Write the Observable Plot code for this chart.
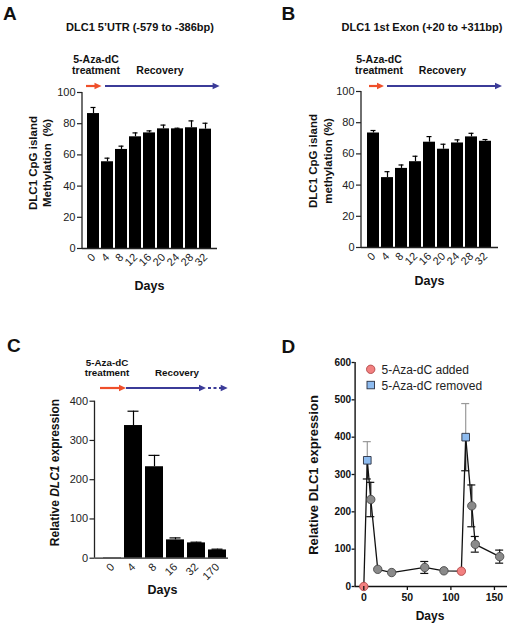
<!DOCTYPE html>
<html><head><meta charset="utf-8">
<script src="https://cdn.jsdelivr.net/npm/d3@7"></script>
<script src="https://cdn.jsdelivr.net/npm/@observablehq/plot@0.6"></script>
<style>
body{margin:0;background:#fff;}
#fig{position:relative;width:510px;height:626px;overflow:hidden;background:#fff;}
.panel{position:absolute;}
</style></head><body><div id="fig"></div>
<script>
// ---------- data ----------
const daysAB = ["0","4","8","12","16","20","24","28","32"];
const methA  = [86.5, 55.6, 63.5, 71.6, 74.1, 76.7, 76.7, 77.4, 76.5];
const errA   = [3.9, 2.3, 2.1, 2.5, 1.3, 2.4, 0.4, 4.4, 3.8];
const methB  = [73.4, 44.8, 50.7, 55.0, 67.5, 63.0, 67.0, 70.9, 68.1];
const errB   = [1.6, 3.8, 2.2, 3.5, 3.6, 3.2, 2.0, 2.3, 1.1];
const ticksAB = [0, 20, 40, 60, 80, 100];

const daysC = ["0","4","8","16","32","170"];
const exprC = [1, 338, 233, 46.7, 39, 21];
const errC  = [0, 36.5, 29, 5, 1.8, 2];
const ticksC = [0, 100, 200, 300, 400];

const daysD  = [0, 4, 8, 16, 32, 70, 92, 112, 117, 124, 128, 156];
const exprD  = [0, 338, 233, 46, 37.4, 51, 42, 41, 400, 216, 113, 80];
const errD   = [0, 50, 46, 0, 0, 16, 0, 0, 90, 56, 21, 17.5];
const typeD  = ["added","removed","recovery","recovery","recovery","recovery","recovery","added","removed","recovery","recovery","recovery"];
const ticksDx = [0, 50, 100, 150];
const ticksDy = [0, 100, 200, 300, 400, 500, 600];
const legendD = ["5-Aza-dC added", "5-Aza-dC removed"];

// ---------- style ----------
const FONT = '"Liberation Sans", Arial, Helvetica, sans-serif';
const RED = "#ef4f2a", BLUE = "#3b3b98";
const fig = document.getElementById("fig");

function place(left, top, el){
  const d = document.createElement("div");
  d.className = "panel"; d.style.left = left + "px"; d.style.top = top + "px";
  d.appendChild(el); fig.appendChild(d);
}
function txt(svg, x, y, s, o = {}){
  const t = svg.append("text").attr("x", x).attr("y", y)
    .attr("font-family", FONT).attr("font-size", o.size || 11)
    .attr("font-weight", o.weight || "bold").attr("fill", o.fill || "#111")
    .attr("text-anchor", o.anchor || "middle");
  if (o.rotate) t.attr("transform", `rotate(-90 ${x} ${y})`);
  t.text(s);
  return t;
}
function arrow(svg, x1, x2, y, color, dotted){
  const hl = 7, hw = 3.3;
  svg.append("line").attr("x1", x1).attr("x2", x2 - hl + 1).attr("y1", y).attr("y2", y)
    .attr("stroke", color).attr("stroke-width", 2.2)
    .attr("stroke-dasharray", dotted ? "3,2.5" : null);
  svg.append("path").attr("d", `M${x2},${y}L${x2 - hl},${y - hw}L${x2 - hl},${y + hw}Z`).attr("fill", color);
}

function barPlot(days, vals, errs, o){
  const data = days.map((d, i) => ({day: d, v: vals[i], e: errs[i]}));
  return Plot.plot({
    width: o.width, height: o.height,
    marginLeft: o.ml, marginRight: o.mr, marginTop: o.mt, marginBottom: o.mb,
    style: {fontFamily: FONT, fontSize: "11px", color: "#222", background: "none", overflow: "visible"},
    x: {type: "band", domain: days, paddingInner: o.pi, paddingOuter: o.po, align: o.align ?? 0.5, label: null},
    y: {domain: o.yDomain, label: null},
    marks: [
      Plot.ruleX(data.filter(d => d.e > 0), {x: "day", y1: "v", y2: d => d.v + d.e, stroke: "#000", strokeWidth: 1.2}),
      Plot.tickY(data.filter(d => d.e > 0), {x: "day", y: d => d.v + d.e, stroke: "#000", strokeWidth: 1.2, insetLeft: o.cap, insetRight: o.cap}),
      Plot.barY(data, {x: "day", y: "v", fill: "#000"}),
      Plot.ruleY([0], {stroke: "#222", strokeWidth: 1.3}),
      Plot.axisY({ticks: o.yTicks, tickSize: 5, tickPadding: 2, label: null, stroke: "#222", strokeWidth: 1.2, fontSize: 11}),
      Plot.axisX({tickRotate: -45, tickSize: 0, tickPadding: 7, label: null, fontSize: 11})
    ]
  });
}
function yAxisLine(plot){
  const xs = plot.scale("x"), ys = plot.scale("y");
  const svg = d3.select(plot);
  svg.append("line").attr("x1", xs.range[0]).attr("x2", xs.range[0])
    .attr("y1", ys.apply(ys.domain[0])).attr("y2", ys.apply(ys.domain[1]))
    .attr("stroke", "#222").attr("stroke-width", 1.3);
  return {svg, xs, ys};
}

// ---------- Panel A ----------
{
  const p = barPlot(daysAB, methA, errA, {width: 255, height: 300, ml: 82, mr: 38, mt: 92, mb: 52,
    pi: 0.13, po: 0.2, yDomain: [0, 100], yTicks: ticksAB, cap: 3.5});
  const {svg, xs} = yAxisLine(p);
  const bw = xs.bandwidth;
  txt(svg, 3, 20, "A", {size: 19, anchor: "start"});
  txt(svg, 140, 31, "DLC1 5\u2019UTR (-579 to -386bp)", {size: 11});
  txt(svg, 96, 63, "5-Aza-dC", {size: 10.5});
  txt(svg, 96, 74, "treatment", {size: 10.5});
  txt(svg, 160, 74, "Recovery", {size: 10.5});
  arrow(svg, xs.apply(daysAB[0]) - 1, xs.apply(daysAB[1]) + 0.5, 86, RED);
  arrow(svg, xs.apply(daysAB[1]) + bw / 2 - 2, xs.range[1] + 2.6, 86, BLUE);
  txt(svg, 36.5, 163, "DLC1 CpG island", {size: 11.5, rotate: true});
  txt(svg, 51, 163, "Methylation  (%)", {size: 11.5, rotate: true}).attr("xml:space", "preserve");
  txt(svg, 149.5, 290, "Days", {size: 12.5});
  place(0, 0, p);
}
// ---------- Panel B ----------
{
  const p = barPlot(daysAB, methB, errB, {width: 255, height: 300, ml: 106, mr: 12, mt: 91, mb: 53,
    pi: 0.13, po: 0.2, yDomain: [0, 100], yTicks: ticksAB, cap: 3.5});
  const {svg, xs} = yAxisLine(p);
  const bw = xs.bandwidth;
  txt(svg, 26.5, 20, "B", {size: 19, anchor: "start"});
  txt(svg, 167, 31, "DLC1 1st Exon (+20 to +311bp)", {size: 11});
  txt(svg, 124, 63, "5-Aza-dC", {size: 10.5});
  txt(svg, 124, 74, "treatment", {size: 10.5});
  txt(svg, 187.5, 74, "Recovery", {size: 10.5});
  arrow(svg, xs.apply(daysAB[0]) + 2, xs.apply(daysAB[1]) + 3, 86, RED);
  arrow(svg, xs.apply(daysAB[1]) + bw / 2, xs.range[1] + 4, 86, BLUE);
  txt(svg, 62, 161, "DLC1 CpG island", {size: 11.5, rotate: true});
  txt(svg, 77, 161, "methylation (%)", {size: 11.5, rotate: true});
  txt(svg, 174.5, 285, "Days", {size: 12.5});
  place(255, 0, p);
}
// ---------- Panel C ----------
{
  const p = barPlot(daysC, exprC, errC, {width: 255, height: 326, ml: 94.5, mr: 27, mt: 100.7, mb: 68.3,
    pi: 0.13, po: 0.18, align: 0.8, yDomain: [0, 400], yTicks: ticksC, cap: 3.5});
  const {svg, xs} = yAxisLine(p);
  const bw = xs.bandwidth;
  txt(svg, 7, 51.7, "C", {size: 19, anchor: "start"});
  txt(svg, 107, 65.7, "5-Aza-dC", {size: 9.8});
  txt(svg, 107, 76, "treatment", {size: 9.8});
  txt(svg, 177, 75.5, "Recovery", {size: 9.8});
  arrow(svg, xs.apply(daysC[0]) - 3, xs.apply(daysC[1]) + 2, 88, RED);
  arrow(svg, xs.apply(daysC[1]) + 2, xs.apply(daysC[4]) + bw + 1, 88, BLUE);
  arrow(svg, xs.apply(daysC[5]), xs.apply(daysC[5]) + bw + 1.7, 88, BLUE, true);
  const t = txt(svg, 58.6, 172.5, "", {size: 12, rotate: true});
  t.append("tspan").text("Relative ");
  t.append("tspan").attr("font-style", "italic").text("DLC1");
  t.append("tspan").text(" expression");
  txt(svg, 162.5, 294, "Days", {size: 12.5});
  place(0, 300, p);
}
// ---------- Panel D ----------
{
  const data = daysD.map((d, i) => ({day: d, v: exprD[i], e: errD[i], type: typeD[i]}));
  const withErr = data.filter(d => d.e > 0);
  const capDays = 4.6;
  const p = Plot.plot({
    width: 255, height: 326, marginLeft: 99.6, marginRight: 3, marginTop: 62, marginBottom: 40,
    style: {fontFamily: FONT, fontSize: "10px", color: "#111", background: "none", overflow: "visible"},
    x: {domain: [-10, 165], label: null},
    y: {domain: [0, 600], label: null},
    marks: [
      Plot.ruleY([0], {stroke: "#111", strokeWidth: 1.4}),
      Plot.ruleX([-10], {stroke: "#111", strokeWidth: 1.4}),
      Plot.ruleX(withErr, {x: "day", y1: "v", y2: d => d.v + d.e, stroke: d => d.type === "removed" ? "#999" : "#111", strokeWidth: 1.2}),
      Plot.ruleY(withErr, {y: d => d.v + d.e, x1: d => d.day - capDays, x2: d => d.day + capDays, stroke: d => d.type === "removed" ? "#999" : "#111", strokeWidth: 1.2}),
      Plot.ruleX(withErr, {x: "day", y1: "v", y2: d => d.v - d.e, stroke: "#111", strokeWidth: 1.2}),
      Plot.ruleY(withErr, {y: d => d.v - d.e, x1: d => d.day - capDays, x2: d => d.day + capDays, stroke: "#111", strokeWidth: 1.2}),
      Plot.line(data, {x: "day", y: "v", stroke: "#111", strokeWidth: 1.3}),
      Plot.dot(data.filter(d => d.type === "recovery"), {x: "day", y: "v", r: 4.2, fill: "#8a8a8a", stroke: "#4a4a4a", strokeWidth: 0.9}),
      Plot.dot(data.filter(d => d.type === "added"), {x: "day", y: "v", r: 4.2, fill: "#f28080", stroke: "#b04848", strokeWidth: 0.9}),
      Plot.dot(data.filter(d => d.type === "removed"), {x: "day", y: "v", r: 4.3, symbol: "square", fill: "#8dbbef", stroke: "#2a3040", strokeWidth: 0.9}),
      Plot.axisY({ticks: ticksDy, tickSize: 3, tickPadding: 1, label: null, fontWeight: "bold", fontSize: 10, strokeWidth: 1.3}),
      Plot.axisX({ticks: ticksDx, tickSize: 4, tickPadding: 3, label: null, fontWeight: "bold", fontSize: 10.5, strokeWidth: 1.3})
    ]
  });
  const svg = d3.select(p);
  txt(svg, 26.5, 53, "D", {size: 19, anchor: "start"});
  svg.append("circle").attr("cx", 115.7).attr("cy", 69.3).attr("r", 4.2).attr("fill", "#f28080").attr("stroke", "#b04848").attr("stroke-width", 0.9);
  svg.append("rect").attr("x", 112).attr("y", 81.3).attr("width", 7.5).attr("height", 7.5).attr("fill", "#8dbbef").attr("stroke", "#2a3040").attr("stroke-width", 0.9);
  txt(svg, 126.5, 73.5, legendD[0], {size: 12, weight: "normal", anchor: "start", fill: "#222"});
  txt(svg, 126.5, 89.5, legendD[1], {size: 12, weight: "normal", anchor: "start", fill: "#222"});
  txt(svg, 63, 175, "Relative DLC1 expression", {size: 13, rotate: true});
  txt(svg, 175, 319.5, "Days", {size: 12});
  place(255, 300, p);
}
</script></body></html>
